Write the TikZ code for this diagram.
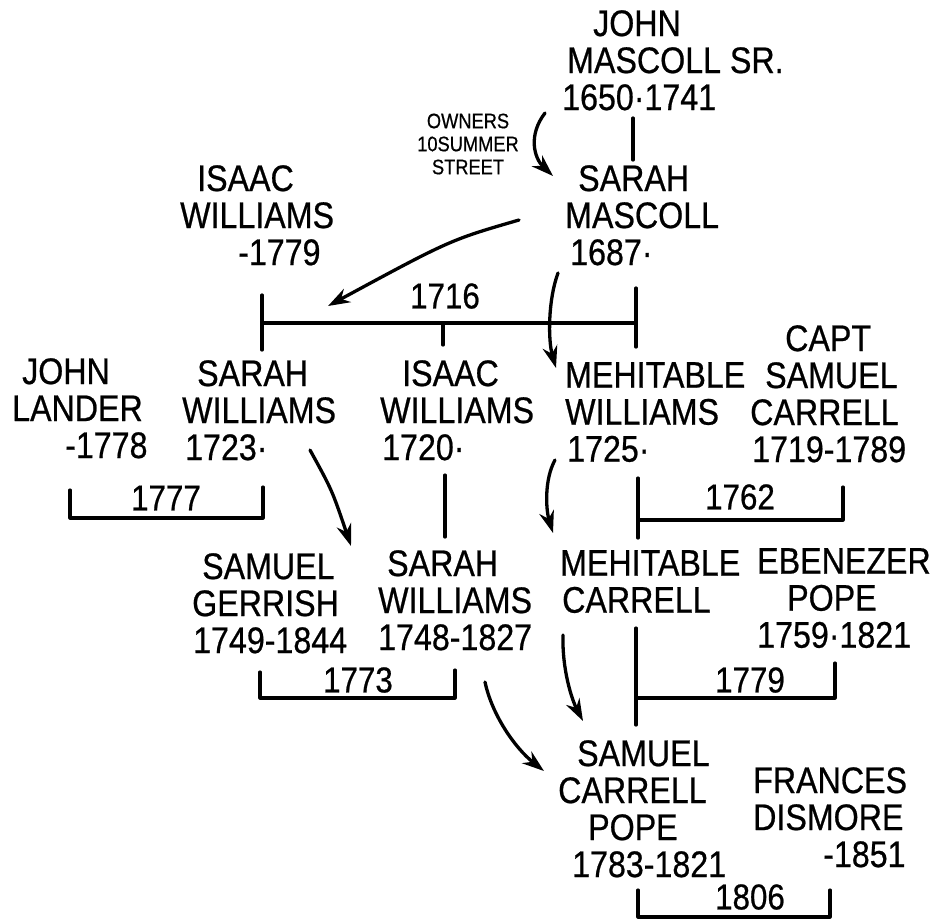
\documentclass[tikz,border=0pt]{standalone}
\usepackage{fontspec}
\setmainfont{Liberation Sans}[FakeStretch=0.87,FakeBold=0.6]
\usetikzlibrary{arrows.meta}
\tikzset{
  person/.style={anchor=north west, align=left, inner sep=0pt, font=\fontsize{37}{37}\selectfont},
  notetext/.style={align=center, inner sep=0pt, font=\fontsize{21}{23}\selectfont},
  yearlbl/.style={inner sep=0pt, font=\fontsize{36}{36}\selectfont},
  tie/.style={line width=3.2pt, line cap=round, line join=round},
  descent/.style={line width=3.3pt, line cap=round, -{Stealth[length=22pt,width=15pt]}}
}
\newcommand{\ind}[1]{\hspace*{#1pt}}
\begin{document}
\begin{tikzpicture}[x=1pt,y=-1pt]
\useasboundingbox (0,0) rectangle (941,922);

% people
\node[person] (jms) at (562,10) {\ind{31}JOHN\\\ind{5}MASCOLL SR.\\1650·1741};
\node[notetext] (own) at (468,144) {OWNERS\\10SUMMER\\STREET};
\node[person] (sm) at (565,165) {\ind{13}SARAH\\MASCOLL\\\ind{5}1687·};
\node[person] (iw) at (180,165) {\ind{17}ISAAC\\WILLIAMS\\\ind{58}-1779};
\node[person] (jl) at (12,358) {\ind{10}JOHN\\LANDER\\\ind{53}-1778};
\node[person] (sw) at (182,360) {\ind{15}SARAH\\WILLIAMS\\\ind{3}1723·};
\node[person] (iwj) at (380,360) {\ind{22}ISAAC\\WILLIAMS\\\ind{2}1720·};
\node[person] (mw) at (565,362) {MEHITABLE\\WILLIAMS\\\ind{2}1725·};
\node[person] (sc) at (750,325) {\ind{35}CAPT\\\ind{15}SAMUEL\\CARRELL\\\ind{2}1719-1789};
\node[person] (sg) at (192,553) {\ind{10}SAMUEL\\GERRISH\\\ind{1}1749-1844};
\node[person] (sww) at (378,550) {\ind{9}SARAH\\WILLIAMS\\1748-1827};
\node[person] (mc) at (560,550) {MEHITABLE\\\ind{2}CARRELL};
\node[person] (ep) at (757,548) {EBENEZER\\\ind{30}POPE\\1759·1821};
\node[person] (scp) at (558,740) {\ind{19}SAMUEL\\CARRELL\\\ind{30}POPE\\\ind{14}1783-1821};
\node[person] (fd) at (753,767) {FRANCES\\DISMORE\\\ind{70}-1851};

% marriage years
\node[yearlbl] (y1716) at (445,296) {1716};
\node[yearlbl] (y1777) at (166,498) {1777};
\node[yearlbl] (y1762) at (740,497) {1762};
\node[yearlbl] (y1773) at (358,680) {1773};
\node[yearlbl] (y1779) at (750,680) {1779};
\node[yearlbl] (y1806) at (750,897) {1806};

% coordinates for lines
\coordinate (jmsB) at (633,118);
\coordinate (smT) at (633,160);
% 1716 bar
\coordinate (b16l1) at (262,295); \coordinate (b16l2) at (262,350);
\coordinate (b16r1) at (636,288); \coordinate (b16r2) at (636,347);
\coordinate (b16a) at (262,323); \coordinate (b16b) at (636,323);
\coordinate (b16m) at (443,323); \coordinate (b16md) at (443,345);
% 1777
\coordinate (b77a) at (70,490); \coordinate (b77b) at (70,518);
\coordinate (b77c) at (263,518); \coordinate (b77d) at (263,487);
% 1762
\coordinate (b62a) at (638,478); \coordinate (b62b) at (638,520);
\coordinate (b62c) at (843,520); \coordinate (b62d) at (843,487);
\coordinate (b62e) at (638,538);
% 1720 -> Sarah
\coordinate (iwjB) at (445,475); \coordinate (swwT) at (445,537);
% 1773
\coordinate (b73a) at (260,672); \coordinate (b73b) at (260,698);
\coordinate (b73c) at (455,698); \coordinate (b73d) at (455,670);
% 1779
\coordinate (b79a) at (636,628); \coordinate (b79b) at (636,698);
\coordinate (b79c) at (835,698); \coordinate (b79d) at (835,663);
\coordinate (b79e) at (636,725);
% 1806
\coordinate (b06a) at (638,890); \coordinate (b06b) at (638,917);
\coordinate (b06c) at (830,917); \coordinate (b06d) at (830,890);

% arrow ends
\coordinate (ownS) at (545,113); \coordinate (ownE) at (553,176);
\coordinate (smL) at (519,220); \coordinate (barA) at (328,306);
\coordinate (smB) at (558,273); \coordinate (mwT) at (556,368);
\coordinate (swB) at (310,450); \coordinate (sgT) at (351,546);
\coordinate (mwB) at (555,460); \coordinate (mcT) at (553,533);
\coordinate (mcB) at (563,635); \coordinate (scpT) at (583,721);
\coordinate (swwB) at (485,682); \coordinate (scpL) at (544,771);

% lines
\draw[tie] (jmsB) -- (smT);
\draw[tie] (b16l1) -- (b16l2);
\draw[tie] (b16r1) -- (b16r2);
\draw[tie] (b16a) -- (b16b);
\draw[tie] (b16m) -- (b16md);
\draw[tie] (b77a) -- (b77b) -- (b77c) -- (b77d);
\draw[tie] (b62a) -- (b62e);
\draw[tie] (b62b) -- (b62c) -- (b62d);
\draw[tie] (iwjB) -- (swwT);
\draw[tie] (b73a) -- (b73b) -- (b73c) -- (b73d);
\draw[tie] (b79a) -- (b79e);
\draw[tie] (b79b) -- (b79c) -- (b79d);
\draw[tie] (b06a) -- (b06b) -- (b06c) -- (b06d);

% arrows
\draw[descent] (ownS) .. controls (528,135) and (534,158) .. (ownE);
\draw[descent] (smL) .. controls (450,240) .. (barA);
\draw[descent] (smB) .. controls (548,300) and (548,340) .. (mwT);
\draw[descent] (swB) .. controls (332,490) .. (sgT);
\draw[descent] (mwB) .. controls (544,480) and (546,510) .. (mcT);
\draw[descent] (mcB) .. controls (562,670) and (572,700) .. (scpT);
\draw[descent] (swwB) .. controls (492,715) and (515,748) .. (scpL);
\end{tikzpicture}
\end{document}
